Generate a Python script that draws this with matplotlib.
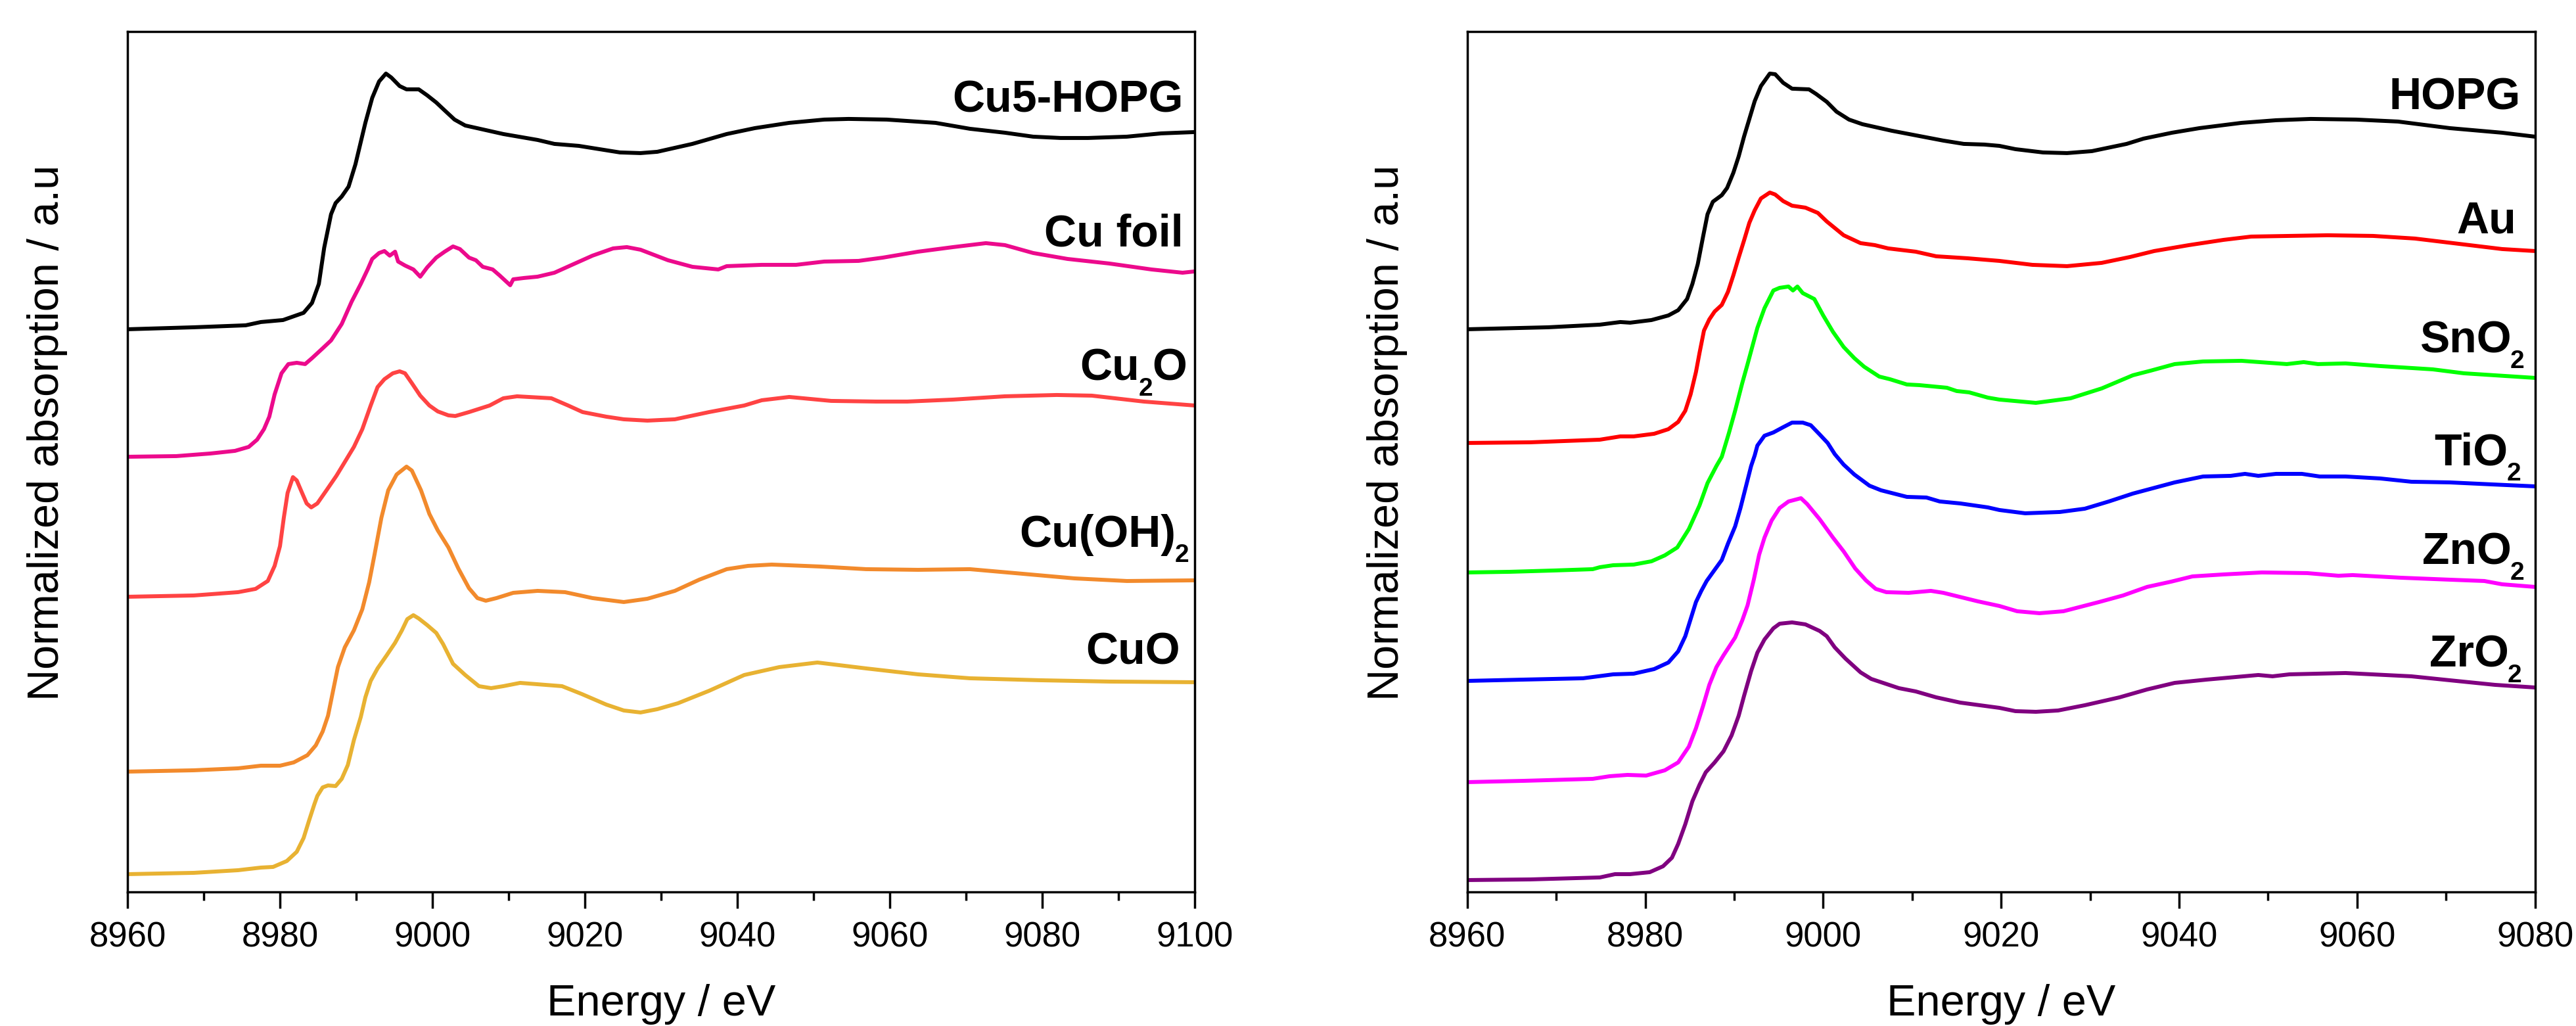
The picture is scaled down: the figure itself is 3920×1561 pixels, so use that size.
import matplotlib
matplotlib.use("Agg")
import matplotlib.pyplot as plt
from matplotlib.ticker import MultipleLocator
from matplotlib.transforms import ScaledTranslation

plt.rcParams['font.family'] = ['Liberation Sans', 'DejaVu Sans']

# ---------------- data (energy eV, offset normalized absorption) ----------------
cu5_hopg = [(8960, 8.56), (8968.7, 8.59), (8975.5, 8.62), (8977.5, 8.67), (8980.4, 8.70), (8983.1, 8.81),
            (8984.2, 8.96), (8985.1, 9.25), (8985.8, 9.80), (8986.7, 10.31), (8987.3, 10.48), (8988.1, 10.58),
            (8989.0, 10.73), (8989.9, 11.07), (8991.2, 11.70), (8992.1, 12.08), (8993.0, 12.33), (8993.9, 12.45),
            (8994.6, 12.39), (8995.7, 12.26), (8996.6, 12.21), (8998.2, 12.21), (8999.3, 12.12), (9000.5, 12.01),
            (9001.6, 11.89), (9002.9, 11.75), (9004.3, 11.66), (9009.3, 11.53), (9013.8, 11.44), (9016.0, 11.38),
            (9019.2, 11.35), (9024.6, 11.25), (9027.3, 11.24), (9029.5, 11.26), (9034.1, 11.38), (9038.6, 11.53),
            (9042.3, 11.62), (9046.8, 11.70), (9051.4, 11.75), (9054.6, 11.76), (9059.6, 11.75), (9066.0, 11.70),
            (9070.5, 11.61), (9075.1, 11.55), (9078.8, 11.49), (9082.4, 11.47), (9086.0, 11.47), (9091.1, 11.49),
            (9095.6, 11.54), (9100, 11.56)]

cu_foil = [(8960, 6.62), (8966.4, 6.63), (8970.9, 6.67), (8974.1, 6.71), (8975.9, 6.77), (8977.0, 6.88),
           (8977.9, 7.04), (8978.6, 7.23), (8979.3, 7.57), (8980.2, 7.89), (8981.1, 8.03), (8982.2, 8.05),
           (8983.3, 8.03), (8984.2, 8.12), (8985.6, 8.27), (8986.7, 8.39), (8988.1, 8.64), (8989.4, 8.98),
           (8990.6, 9.25), (8991.5, 9.47), (8992.1, 9.63), (8993.0, 9.72), (8993.7, 9.75), (8994.4, 9.68),
           (8995.1, 9.74), (8995.5, 9.59), (8996.4, 9.53), (8997.5, 9.47), (8998.4, 9.36), (8999.3, 9.50),
           (9000.5, 9.65), (9001.6, 9.74), (9002.7, 9.82), (9003.6, 9.78), (9004.8, 9.65), (9005.7, 9.61),
           (9006.6, 9.51), (9007.9, 9.47), (9008.8, 9.38), (9010.2, 9.23), (9010.6, 9.32), (9012.0, 9.34),
           (9013.8, 9.36), (9016.0, 9.42), (9018.3, 9.54), (9021.0, 9.68), (9023.7, 9.79), (9025.5, 9.81),
           (9027.3, 9.77), (9030.9, 9.61), (9034.1, 9.51), (9037.5, 9.47), (9038.6, 9.52), (9043.2, 9.54),
           (9047.7, 9.54), (9051.4, 9.59), (9055.9, 9.60), (9059.1, 9.65), (9063.7, 9.74), (9068.3, 9.81),
           (9072.6, 9.87), (9075.1, 9.84), (9078.8, 9.72), (9083.3, 9.63), (9088.8, 9.56), (9094.3, 9.47),
           (9098.4, 9.42), (9100, 9.44)]

cu2o = [(8960, 4.49), (8968.7, 4.51), (8974.5, 4.56), (8976.8, 4.61), (8978.4, 4.73), (8979.3, 4.96),
        (8980.0, 5.26), (8980.5, 5.69), (8981.0, 6.07), (8981.7, 6.31), (8982.2, 6.26), (8982.9, 6.07),
        (8983.5, 5.91), (8984.1, 5.85), (8984.9, 5.91), (8986.1, 6.11), (8987.4, 6.33), (8988.5, 6.54),
        (8989.7, 6.77), (8990.8, 7.04), (8991.9, 7.40), (8992.8, 7.68), (8993.7, 7.80), (8994.8, 7.89),
        (8995.7, 7.92), (8996.4, 7.89), (8997.3, 7.74), (8998.4, 7.55), (8999.6, 7.40), (9000.7, 7.31),
        (9002.1, 7.25), (9003.0, 7.24), (9004.8, 7.30), (9007.5, 7.40), (9009.3, 7.51), (9011.1, 7.54),
        (9015.6, 7.51), (9017.8, 7.40), (9019.7, 7.30), (9022.8, 7.23), (9025.1, 7.19), (9028.2, 7.17),
        (9031.8, 7.19), (9036.3, 7.30), (9040.9, 7.40), (9043.2, 7.48), (9046.8, 7.53), (9052.3, 7.47),
        (9058.2, 7.46), (9062.3, 7.46), (9068.3, 7.49), (9075.1, 7.54), (9081.9, 7.56), (9086.5, 7.55),
        (9093.3, 7.46), (9100, 7.40)]

cu_oh2 = [(8960, 1.83), (8968.7, 1.85), (8974.5, 1.88), (8977.5, 1.92), (8980.0, 1.92), (8981.8, 1.97),
          (8983.6, 2.08), (8984.7, 2.23), (8985.6, 2.44), (8986.3, 2.68), (8987.0, 3.08), (8987.6, 3.42),
          (8988.5, 3.72), (8989.7, 3.98), (8990.8, 4.30), (8991.7, 4.71), (8992.4, 5.13), (8993.3, 5.69),
          (8994.2, 6.11), (8995.3, 6.35), (8996.6, 6.47), (8997.3, 6.41), (8998.5, 6.11), (8999.6, 5.75),
          (9000.7, 5.50), (9002.1, 5.24), (9003.4, 4.92), (9004.8, 4.62), (9005.9, 4.47), (9007.0, 4.43),
          (9008.4, 4.47), (9010.6, 4.55), (9013.8, 4.58), (9017.4, 4.56), (9021.0, 4.47), (9025.1, 4.41),
          (9028.2, 4.46), (9031.8, 4.58), (9035.0, 4.75), (9038.6, 4.91), (9041.4, 4.96), (9044.5, 4.98),
          (9050.9, 4.95), (9056.9, 4.91), (9063.7, 4.90), (9070.5, 4.91), (9077.4, 4.84), (9084.2, 4.77),
          (9091.1, 4.73), (9100, 4.74)]

cuo = [(8960, 0.27), (8968.7, 0.29), (8974.5, 0.33), (8977.5, 0.37), (8979.1, 0.38), (8980.9, 0.47),
       (8982.2, 0.61), (8983.1, 0.82), (8983.8, 1.08), (8984.5, 1.33), (8984.9, 1.46), (8985.6, 1.59),
       (8986.3, 1.62), (8987.3, 1.61), (8988.1, 1.72), (8988.9, 1.93), (8989.7, 2.31), (8990.6, 2.66),
       (8991.2, 2.96), (8991.9, 3.21), (8992.8, 3.40), (8994.0, 3.60), (8995.1, 3.79), (8996.0, 3.98),
       (8996.7, 4.15), (8997.5, 4.21), (8998.2, 4.16), (8999.3, 4.06), (9000.5, 3.94), (9001.4, 3.77),
       (9002.7, 3.47), (9004.3, 3.30), (9006.1, 3.13), (9007.7, 3.10), (9009.3, 3.13), (9011.5, 3.18),
       (9017.0, 3.13), (9019.6, 3.01), (9022.8, 2.85), (9025.1, 2.76), (9027.3, 2.73), (9029.5, 2.78),
       (9032.2, 2.87), (9036.3, 3.06), (9040.9, 3.30), (9045.5, 3.42), (9050.5, 3.49), (9056.9, 3.40),
       (9063.7, 3.31), (9070.5, 3.25), (9079.7, 3.22), (9088.8, 3.20), (9100, 3.19)]

hopg = [(8960, 8.56), (8969.1, 8.59), (8974.9, 8.63), (8977.2, 8.67), (8978.3, 8.66), (8980.7, 8.70),
        (8982.6, 8.77), (8983.7, 8.85), (8984.7, 9.02), (8985.3, 9.25), (8985.9, 9.55), (8986.5, 9.97),
        (8987.0, 10.31), (8987.6, 10.50), (8988.6, 10.60), (8989.2, 10.71), (8989.9, 10.94), (8990.5, 11.19),
        (8991.1, 11.49), (8991.7, 11.76), (8992.3, 12.03), (8993.0, 12.26), (8994.0, 12.45), (8994.6, 12.44),
        (8995.5, 12.31), (8996.5, 12.22), (8998.4, 12.21), (8999.2, 12.14), (9000.4, 12.02), (9001.5, 11.87),
        (9002.9, 11.75), (9004.4, 11.68), (9007.7, 11.58), (9013.5, 11.43), (9015.8, 11.38), (9018.1, 11.37),
        (9019.8, 11.35), (9021.6, 11.30), (9024.7, 11.25), (9027.4, 11.24), (9030.2, 11.27), (9034.1, 11.38),
        (9036.0, 11.46), (9039.2, 11.55), (9042.3, 11.62), (9047.0, 11.70), (9050.9, 11.74), (9054.8, 11.76),
        (9059.9, 11.75), (9064.6, 11.72), (9070.4, 11.62), (9076.3, 11.55), (9080, 11.49)]

au = [(8960, 6.83), (8967.1, 6.84), (8974.9, 6.88), (8977.2, 6.93), (8978.7, 6.93), (8981.0, 6.97),
      (8982.6, 7.04), (8983.7, 7.15), (8984.5, 7.32), (8985.1, 7.57), (8985.7, 7.91), (8986.1, 8.20),
      (8986.6, 8.54), (8987.2, 8.71), (8987.8, 8.83), (8988.6, 8.93), (8989.3, 9.13), (8989.9, 9.38),
      (8990.5, 9.65), (8991.1, 9.91), (8991.7, 10.18), (8992.3, 10.37), (8993.0, 10.55), (8994.0, 10.64),
      (8994.6, 10.61), (8995.5, 10.51), (8996.5, 10.44), (8998.0, 10.41), (8999.4, 10.33), (9000.4, 10.20),
      (9002.3, 9.99), (9004.2, 9.87), (9005.8, 9.84), (9007.3, 9.79), (9010.4, 9.74), (9012.7, 9.67),
      (9016.2, 9.64), (9019.8, 9.60), (9023.5, 9.54), (9027.4, 9.52), (9031.3, 9.57), (9034.5, 9.66),
      (9037.2, 9.75), (9041.1, 9.84), (9045.0, 9.92), (9048.1, 9.97), (9056.7, 9.99), (9061.8, 9.98),
      (9066.5, 9.94), (9070.8, 9.87), (9076.3, 9.78), (9080, 9.75)]

sno2 = [(8960, 4.86), (8964.8, 4.87), (8969.8, 4.89), (8974.1, 4.91), (8974.9, 4.94), (8976.4, 4.97),
        (8978.7, 4.98), (8980.7, 5.03), (8982.2, 5.12), (8983.6, 5.24), (8984.9, 5.52), (8986.1, 5.88),
        (8987.0, 6.22), (8988.0, 6.48), (8988.6, 6.62), (8989.4, 6.98), (8990.1, 7.32), (8990.9, 7.74),
        (8991.5, 8.03), (8992.1, 8.33), (8992.6, 8.58), (8993.4, 8.88), (8994.4, 9.15), (8995.1, 9.19),
        (8996.1, 9.21), (8996.6, 9.15), (8997.1, 9.21), (8997.7, 9.11), (8999.0, 9.02), (9000.0, 8.77),
        (9001.1, 8.52), (9002.3, 8.29), (9003.5, 8.12), (9004.6, 7.99), (9006.3, 7.84), (9007.5, 7.80),
        (9009.4, 7.72), (9010.8, 7.71), (9013.9, 7.67), (9015.0, 7.62), (9016.4, 7.60), (9018.5, 7.52),
        (9019.8, 7.49), (9023.9, 7.44), (9027.8, 7.51), (9031.3, 7.66), (9034.8, 7.86), (9036.8, 7.93),
        (9039.5, 8.03), (9042.7, 8.07), (9047.0, 8.08), (9052.1, 8.03), (9054.0, 8.06), (9055.6, 8.03),
        (9058.7, 8.04), (9062.6, 8.00), (9068.5, 7.95), (9072.0, 7.89), (9080, 7.82)]

tio2 = [(8960, 3.21), (8966.4, 3.23), (8973.0, 3.25), (8976.4, 3.31), (8978.7, 3.32), (8981.0, 3.39),
        (8982.6, 3.49), (8983.7, 3.66), (8984.5, 3.89), (8985.1, 4.15), (8985.7, 4.41), (8986.3, 4.58),
        (8986.9, 4.73), (8987.8, 4.90), (8988.6, 5.05), (8989.3, 5.30), (8990.1, 5.56), (8990.7, 5.84),
        (8991.3, 6.16), (8991.9, 6.48), (8992.3, 6.64), (8992.6, 6.79), (8993.4, 6.94), (8994.4, 6.99),
        (8995.5, 7.07), (8996.5, 7.14), (8997.7, 7.14), (8998.6, 7.10), (8999.6, 6.96), (9000.5, 6.83),
        (9001.3, 6.66), (9002.3, 6.50), (9003.5, 6.35), (9005.2, 6.18), (9006.5, 6.11), (9009.4, 6.01),
        (9011.6, 6.00), (9013.1, 5.94), (9015.4, 5.91), (9018.5, 5.85), (9019.8, 5.81), (9022.7, 5.76),
        (9026.6, 5.78), (9029.4, 5.83), (9032.1, 5.94), (9034.8, 6.06), (9039.5, 6.23), (9042.7, 6.32),
        (9045.8, 6.33), (9047.4, 6.36), (9048.9, 6.33), (9050.9, 6.36), (9053.8, 6.36), (9055.8, 6.32),
        (9058.7, 6.32), (9062.6, 6.29), (9066.1, 6.24), (9070.4, 6.23), (9075.1, 6.20), (9080, 6.17)]

zno2 = [(8960, 1.67), (8966.4, 1.69), (8974.1, 1.72), (8976.0, 1.76), (8978.0, 1.78), (8980.1, 1.77),
        (8982.2, 1.85), (8983.7, 1.97), (8984.9, 2.21), (8985.7, 2.49), (8986.5, 2.83), (8987.2, 3.15),
        (8988.0, 3.42), (8988.8, 3.60), (8990.1, 3.87), (8990.9, 4.13), (8991.5, 4.36), (8992.2, 4.75),
        (8992.8, 5.13), (8993.4, 5.39), (8994.2, 5.65), (8995.1, 5.84), (8996.1, 5.94), (8997.5, 5.99),
        (8998.2, 5.90), (8999.6, 5.67), (9001.1, 5.39), (9002.3, 5.18), (9003.6, 4.92), (9004.8, 4.74),
        (9005.9, 4.61), (9007.1, 4.56), (9009.6, 4.55), (9012.1, 4.58), (9013.5, 4.55), (9014.7, 4.51),
        (9017.4, 4.42), (9019.8, 4.35), (9021.8, 4.27), (9024.3, 4.24), (9027.0, 4.27), (9031.0, 4.41),
        (9033.7, 4.51), (9036.4, 4.64), (9039.1, 4.72), (9041.5, 4.80), (9045.0, 4.83), (9049.3, 4.86),
        (9054.4, 4.85), (9057.9, 4.81), (9059.5, 4.82), (9064.9, 4.78), (9070.4, 4.75), (9074.3, 4.73),
        (9076.3, 4.68), (9080, 4.64)]

zro2 = [(8960, 0.18), (8967.1, 0.19), (8974.9, 0.22), (8976.6, 0.27), (8978.3, 0.27), (8980.5, 0.30),
        (8982.0, 0.39), (8983.0, 0.52), (8983.7, 0.73), (8984.5, 1.03), (8985.3, 1.38), (8986.1, 1.63),
        (8986.8, 1.82), (8987.8, 1.97), (8988.8, 2.14), (8989.7, 2.38), (8990.5, 2.68), (8991.1, 2.98),
        (8991.9, 3.36), (8992.6, 3.64), (8993.4, 3.84), (8994.4, 4.01), (8995.1, 4.08), (8996.5, 4.10),
        (8998.0, 4.07), (8999.6, 3.97), (9000.4, 3.89), (9001.3, 3.72), (9002.5, 3.55), (9004.2, 3.34),
        (9005.4, 3.24), (9008.5, 3.10), (9010.4, 3.05), (9012.7, 2.96), (9015.4, 2.88), (9019.8, 2.80),
        (9021.6, 2.75), (9023.9, 2.74), (9026.4, 2.76), (9029.4, 2.84), (9033.3, 2.96), (9036.4, 3.08),
        (9039.5, 3.18), (9043.1, 3.23), (9048.9, 3.30), (9050.5, 3.28), (9052.4, 3.31), (9058.7, 3.33),
        (9066.1, 3.28), (9070.4, 3.22), (9075.5, 3.15), (9080, 3.11)]

# labels as (text, is_subscript) pieces
left_names = [[('Cu5-HOPG', 0)], [('Cu foil', 0)], [('Cu', 0), ('2', 1), ('O', 0)],
              [('Cu(OH)', 0), ('2', 1)], [('CuO', 0)]]
left_series = [cu5_hopg, cu_foil, cu2o, cu_oh2, cuo]
left_colors = ['#000000', '#EC0A8C', '#FF4343', '#F28A2C', '#E8B232']
left_label_x = [9098.5, 9098.5, 9099.0, 9099.2, 9098.1]
left_label_y = [11.86, 9.82, 7.78, 5.25, 3.46]

right_names = [[('HOPG', 0)], [('Au', 0)], [('SnO', 0), ('2', 1)], [('TiO', 0), ('2', 1)],
               [('ZnO', 0), ('2', 1)], [('ZrO', 0), ('2', 1)]]
right_series = [hopg, au, sno2, tio2, zno2, zro2]
right_colors = ['#000000', '#FF0000', '#00FF00', '#0000FF', '#FF00FF', '#800080']
right_label_x = [9078.4, 9077.9, 9078.8, 9078.4, 9078.8, 9078.5]
right_label_y = [11.90, 10.02, 8.20, 6.49, 4.98, 3.42]

left_xlim = (8960, 9100)
right_xlim = (8960, 9080)
ylim = (0, 13.09)

# ---------------- figure ----------------
DPI = 200
fig = plt.figure(figsize=(19.6, 7.805), dpi=DPI)
axL = fig.add_axes([0.0495, 0.1307, 0.4143, 0.8386])
axR = fig.add_axes([0.5696, 0.1307, 0.4145, 0.8386])
renderer = fig.canvas.get_renderer()

MAIN_SIZE = 24.5
SUB_SIZE = 14
SUB_DROP_PT = 8.3


def setup(ax, xlim):
    ax.set_xlim(*xlim)
    ax.set_ylim(*ylim)
    ax.xaxis.set_major_locator(MultipleLocator(20))
    ax.xaxis.set_minor_locator(MultipleLocator(10))
    ax.tick_params(axis='x', which='major', direction='out', length=9, width=1.25,
                   labelsize=19, pad=7, top=False)
    ax.tick_params(axis='x', which='minor', direction='out', length=4.7, width=1.25, top=False)
    ax.set_yticks([])
    for sp in ax.spines.values():
        sp.set_linewidth(1.25)
    ax.text(0.5, -0.131, 'Energy / eV', transform=ax.transAxes, ha='center', va='center', fontsize=24)
    ax.text(-0.075, 0.534, 'Normalized absorption / a.u', transform=ax.transAxes, rotation=90,
            ha='center', va='center', fontsize=24)


def draw_label(ax, x, y, pieces):
    offset_pt = 0.0
    for text, sub in reversed(pieces):
        size = SUB_SIZE if sub else MAIN_SIZE
        dy = -SUB_DROP_PT if sub else 0.0
        tr = ax.transData + ScaledTranslation(-offset_pt / 72.0, dy / 72.0, fig.dpi_scale_trans)
        t = ax.text(x, y, text, transform=tr, ha='right', va='baseline', fontsize=size,
                    fontweight='bold', color='black')
        w_px = t.get_window_extent(renderer).width
        offset_pt += w_px * 72.0 / DPI - (0.6 if sub else 0.3)


def draw(ax, series, colors, names, lx, ly):
    for s, c, n, x, y in zip(series, colors, names, lx, ly):
        xs = [p[0] for p in s]
        ys = [p[1] for p in s]
        ax.plot(xs, ys, color=c, lw=2.15, solid_joinstyle='round', solid_capstyle='butt')
        draw_label(ax, x, y, n)


setup(axL, left_xlim)
setup(axR, right_xlim)
draw(axL, left_series, left_colors, left_names, left_label_x, left_label_y)
draw(axR, right_series, right_colors, right_names, right_label_x, right_label_y)

fig.savefig('out.png', dpi=DPI)
